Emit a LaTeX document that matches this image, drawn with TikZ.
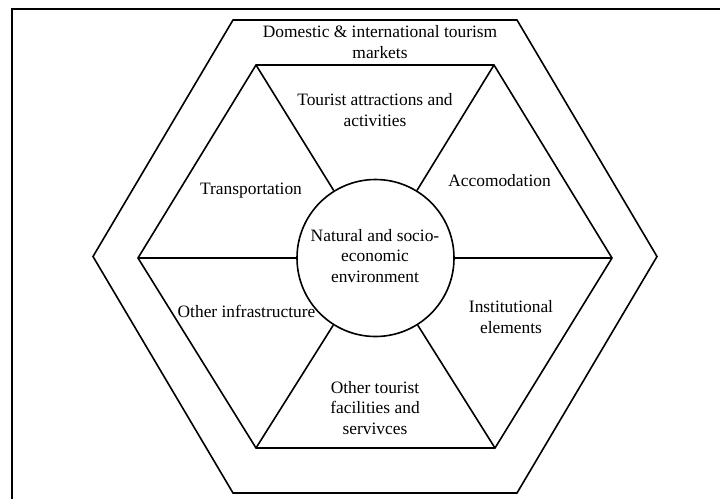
\documentclass[tikz,border=0pt]{standalone}
\usepackage{fontspec}
\setmainfont{Liberation Serif}
\begin{document}
\begin{tikzpicture}[x=1pt,y=-1pt,
  edge/.style={line width=1.6pt,line join=miter},
  lbl/.style={align=center,inner sep=0pt,font=\fontsize{17.4}{20.5}\selectfont}]
\useasboundingbox (0,0) rectangle (720,499);
\draw[line width=2pt] (12,499) -- (12,9) -- (720,9);
% outer hexagon
\coordinate (O1) at (233,20);
\coordinate (O2) at (517,20);
\coordinate (O3) at (657,256.5);
\coordinate (O4) at (517,493);
\coordinate (O5) at (233,493);
\coordinate (O6) at (93,256.5);
\draw[edge] (O1) -- (O2) -- (O3) -- (O4) -- (O5) -- (O6) -- cycle;
% inner hexagon
\coordinate (I1) at (256,65);
\coordinate (I2) at (494,65);
\coordinate (I3) at (612,258);
\coordinate (I4) at (495,448);
\coordinate (I5) at (256,448);
\coordinate (I6) at (138,258);
\draw[edge] (I1) -- (I2) -- (I3) -- (I4) -- (I5) -- (I6) -- cycle;
% centre circle
\node[circle,draw,line width=1.6pt,minimum size=157pt,inner sep=0pt] (env) at (375.5,258) {};
\foreach \v in {I1,I2,I3,I4,I5,I6} \draw[edge] (\v) -- (env);
% labels
\node[lbl] (mkt) at (380,42) {Domestic \& international tourism\\markets};
\node[lbl] (att) at (375,110) {Tourist attractions and\\activities};
\node[lbl] (tra) at (251,191) {Transportation};
\node[lbl] (acc) at (499.5,181) {Accomodation};
\node[lbl] (nat) at (375,256) {Natural and socio-\\economic\\environment};
\node[lbl] (ins) at (511,317) {Institutional\\elements};
\node[lbl] (oth) at (375,408) {Other tourist\\facilities and\\servivces};
\node[lbl] (inf) at (246.5,311) {Other infrastructure};
\end{tikzpicture}
\end{document}
